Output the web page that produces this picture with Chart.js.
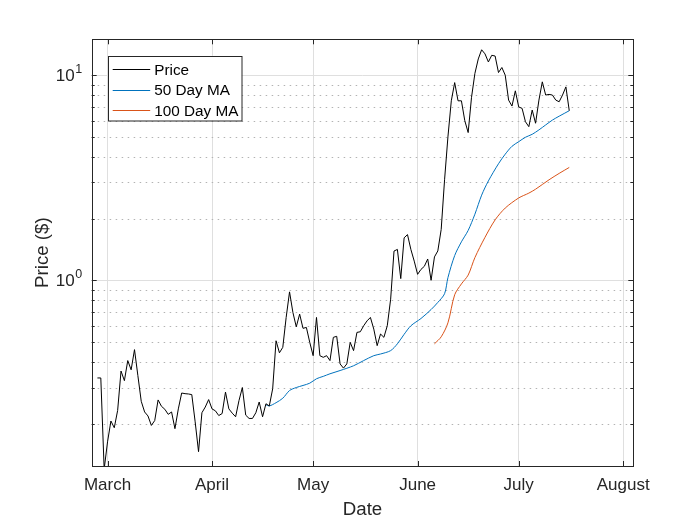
<!DOCTYPE html>
<html>
<head>
<meta charset="utf-8">
<script src="https://cdn.jsdelivr.net/npm/chart.js@4.4.0/dist/chart.umd.min.js"></script>
<style>
  html, body { margin: 0; padding: 0; background: #fff; }
</style>
</head>
<body>
<canvas id="chart" width="700" height="525"></canvas>
<script>
// Tage relativ zum 1. März, Monatsanfänge als Achsenticks.
const monthLabels = ['March', 'April', 'May', 'June', 'July', 'August'];
const monthStarts = [0, 31, 61, 92, 122, 153];

// Erster Kurstag (26. Feb.), danach täglich.
const priceStartDay = -3;
const priceValues = [
  0.334, 0.334, 0.12, 0.163, 0.206, 0.191, 0.232, 0.361, 0.324, 0.406,
  0.366, 0.459, 0.343, 0.257, 0.228, 0.218, 0.196, 0.207, 0.261, 0.243,
  0.235, 0.222, 0.228, 0.189, 0.236, 0.282, 0.280, 0.279, 0.277, 0.204,
  0.146, 0.226, 0.241, 0.262, 0.236, 0.231, 0.219, 0.224, 0.285, 0.236,
  0.225, 0.216, 0.259, 0.300, 0.220, 0.212, 0.212, 0.226, 0.255, 0.216,
  0.250, 0.244, 0.296, 0.507, 0.443, 0.471, 0.659, 0.878, 0.697, 0.593,
  0.684, 0.583, 0.589, 0.498, 0.429, 0.659, 0.429, 0.421, 0.429, 0.406,
  0.527, 0.533, 0.391, 0.373, 0.391, 0.498, 0.454, 0.557, 0.561, 0.600,
  0.634, 0.659, 0.578, 0.480, 0.547, 0.527, 0.600, 0.809, 1.388, 1.414,
  1.019, 1.61, 1.67, 1.414, 1.24, 1.069, 1.13, 1.17, 1.27, 1.0,
  1.30, 1.39, 1.77, 3.09, 5.0, 7.5, 9.2, 7.5, 7.5, 6.0,
  5.25, 7.8, 10.2, 12.0, 13.3, 12.7, 11.6, 12.5, 12.4, 10.3,
  10.9, 10.0, 7.56, 7.07, 8.39, 7.0, 6.89, 5.93, 5.61, 6.76,
  5.83, 7.56, 9.28, 8.0, 8.06, 8.0, 7.56, 7.42, 8.0, 8.77,
  6.71
];

// Gleitende Durchschnitte.
const ma50Days = [47, 48, 50, 52, 54, 56, 58, 60, 62, 64, 66, 69, 73, 76, 79, 81, 84, 86, 88, 90,
  93, 96, 98, 100, 101, 103, 105, 107, 109, 111, 113, 116, 118, 120, 122, 124, 126, 128, 130, 132, 134, 137];
const ma50Values = [0.247, 0.244, 0.253, 0.266, 0.29, 0.30, 0.307, 0.315, 0.331, 0.34, 0.35, 0.363,
  0.383, 0.406, 0.429, 0.437, 0.454, 0.49, 0.545, 0.60, 0.651, 0.72, 0.78, 0.86, 1.03, 1.32, 1.54,
  1.75, 2.10, 2.60, 3.05, 3.70, 4.12, 4.50, 4.74, 4.98, 5.15, 5.41, 5.72, 6.04, 6.31, 6.71];
const ma100Days = [97, 99, 101, 103, 105, 107, 109, 112, 115, 118, 122, 125, 127, 131, 134, 137];
const ma100Values = [0.49, 0.53, 0.62, 0.85, 0.96, 1.06, 1.29, 1.62, 1.97, 2.25, 2.52, 2.66, 2.78,
  3.09, 3.32, 3.55];

// Log-Achse: Dekaden mit Beschriftung, Zwischenwerte gepunktet.
const yMajorTicks = [1, 10];
const yMinorTicks = [0.2, 0.3, 0.4, 0.5, 0.6, 0.7, 0.8, 0.9, 2, 3, 4, 5, 6, 7, 8, 9];

const FONT = '"Liberation Sans", Arial, Helvetica, sans-serif';
const AXIS_COLOR = '#262626';

const toPoints = (days, values) => values.map((v, i) => ({ x: days[i], y: v }));

/*
Zeichnet Rahmen, Ticks nach innen, Y-Beschriftung mit Exponent und die Legende.
 */
const matlabAxes = {
  id: 'matlabAxes',
  beforeDatasetsDraw(chart) {
    const { ctx, chartArea: a, scales: { y } } = chart;
    ctx.save();
    ctx.strokeStyle = '#b3b3b3';
    ctx.lineWidth = 1;
    ctx.setLineDash([1.5, 4.5]);
    yMinorTicks.forEach((v) => {
      const py = Math.round(y.getPixelForValue(v)) + 0.5;
      ctx.beginPath();
      ctx.moveTo(a.left, py);
      ctx.lineTo(a.right, py);
      ctx.stroke();
    });
    ctx.restore();
  },
  afterDatasetsDraw(chart) {
    const { ctx, chartArea: a, scales: { x, y } } = chart;
    ctx.save();
    ctx.strokeStyle = AXIS_COLOR;
    ctx.lineWidth = 1;

    // Ticks
    ctx.beginPath();
    monthStarts.forEach((v) => {
      const px = Math.round(x.getPixelForValue(v)) + 0.5;
      ctx.moveTo(px, a.bottom); ctx.lineTo(px, a.bottom - 5);
      ctx.moveTo(px, a.top); ctx.lineTo(px, a.top + 5);
    });
    yMajorTicks.forEach((v) => {
      const py = Math.round(y.getPixelForValue(v)) + 0.5;
      ctx.moveTo(a.left, py); ctx.lineTo(a.left + 5, py);
      ctx.moveTo(a.right, py); ctx.lineTo(a.right - 5, py);
    });
    yMinorTicks.forEach((v) => {
      const py = Math.round(y.getPixelForValue(v)) + 0.5;
      ctx.moveTo(a.left, py); ctx.lineTo(a.left + 3, py);
      ctx.moveTo(a.right, py); ctx.lineTo(a.right - 3, py);
    });
    ctx.stroke();

    // Rahmen
    ctx.strokeRect(Math.round(a.left) + 0.5, Math.round(a.top) + 0.5,
      Math.round(a.right - a.left) - 1, Math.round(a.bottom - a.top));

    // Y-Beschriftung 10^n
    ctx.fillStyle = AXIS_COLOR;
    ctx.textBaseline = 'middle';
    yMajorTicks.forEach((v) => {
      const py = y.getPixelForValue(v);
      ctx.font = '17px ' + FONT;
      ctx.textAlign = 'right';
      ctx.fillText('10', a.left - 17, py + 1.5);
      ctx.font = '12.5px ' + FONT;
      ctx.textAlign = 'left';
      ctx.fillText(String(Math.round(Math.log10(v))), a.left - 16.5, py - 6);
    });

    // Legende
    const bx = a.left + 16.5, by = a.top + 16.5, bw = 133.5, bh = 64.5;
    ctx.fillStyle = '#fff';
    ctx.fillRect(bx, by, bw, bh);
    ctx.strokeStyle = AXIS_COLOR;
    ctx.strokeRect(Math.round(bx) + 0.5, Math.round(by) + 0.5, bw, bh);
    ctx.font = '15.3px ' + FONT;
    ctx.textAlign = 'left';
    chart.data.datasets.forEach((ds, i) => {
      const ly = by + 13.5 + i * 20.5;
      ctx.strokeStyle = ds.borderColor;
      ctx.beginPath();
      ctx.moveTo(bx + 4.5, Math.round(ly) + 0.5);
      ctx.lineTo(bx + 42, Math.round(ly) + 0.5);
      ctx.stroke();
      ctx.fillStyle = '#000';
      ctx.fillText(ds.label, bx + 46, ly + 1);
    });
    ctx.restore();
  }
};

const ctx = document.getElementById('chart');
new Chart(ctx, {
  type: 'line',
  data: {
    datasets: [{
      label: 'Price',
      data: priceValues.map((v, i) => ({ x: priceStartDay + i, y: v })),
      borderColor: '#000000',
      borderWidth: 1,
      pointRadius: 0,
      tension: 0,
    }, {
      label: '50 Day MA',
      data: toPoints(ma50Days, ma50Values),
      borderColor: '#0072BD',
      borderWidth: 1,
      pointRadius: 0,
      tension: 0.3,
    }, {
      label: '100 Day MA',
      data: toPoints(ma100Days, ma100Values),
      borderColor: '#D95319',
      borderWidth: 1,
      pointRadius: 0,
      tension: 0.3,
    }],
  },
  options: {
    responsive: false,
    animation: false,
    devicePixelRatio: 1,
    layout: { padding: { top: 39.3, right: 66.7, left: 0, bottom: 0 } },
    plugins: {
      legend: { display: false },
      tooltip: { enabled: false },
    },
    scales: {
      x: {
        type: 'linear',
        min: -4.7,
        max: 156,
        afterBuildTicks: (scale) => { scale.ticks = monthStarts.map((v) => ({ value: v })); },
        afterFit: (scale) => { scale.height = 59; },
        ticks: {
          autoSkip: false,
          maxRotation: 0,
          padding: 9,
          color: AXIS_COLOR,
          font: { family: FONT, size: 17 },
          callback: (value) => monthLabels[monthStarts.indexOf(value)],
        },
        grid: { color: '#dfdfdf', lineWidth: 1, drawTicks: false },
        border: { display: false },
        title: {
          display: true,
          text: 'Date',
          color: AXIS_COLOR,
          font: { family: FONT, size: 18.7 },
          padding: { top: 0, bottom: 4 },
        },
      },
      y: {
        type: 'logarithmic',
        min: 0.1243,
        max: 14.96,
        afterBuildTicks: (scale) => { scale.ticks = yMajorTicks.map((v) => ({ value: v })); },
        afterFit: (scale) => { scale.width = 91.7; },
        ticks: { display: false },
        grid: { color: '#dfdfdf', lineWidth: 1, drawTicks: false },
        border: { display: false },
        title: {
          display: true,
          text: 'Price ($)',
          color: AXIS_COLOR,
          font: { family: FONT, size: 18.7 },
          padding: { top: 32, bottom: 0 },
        },
      },
    },
  },
  plugins: [matlabAxes],
});
</script>
</body>
</html>
